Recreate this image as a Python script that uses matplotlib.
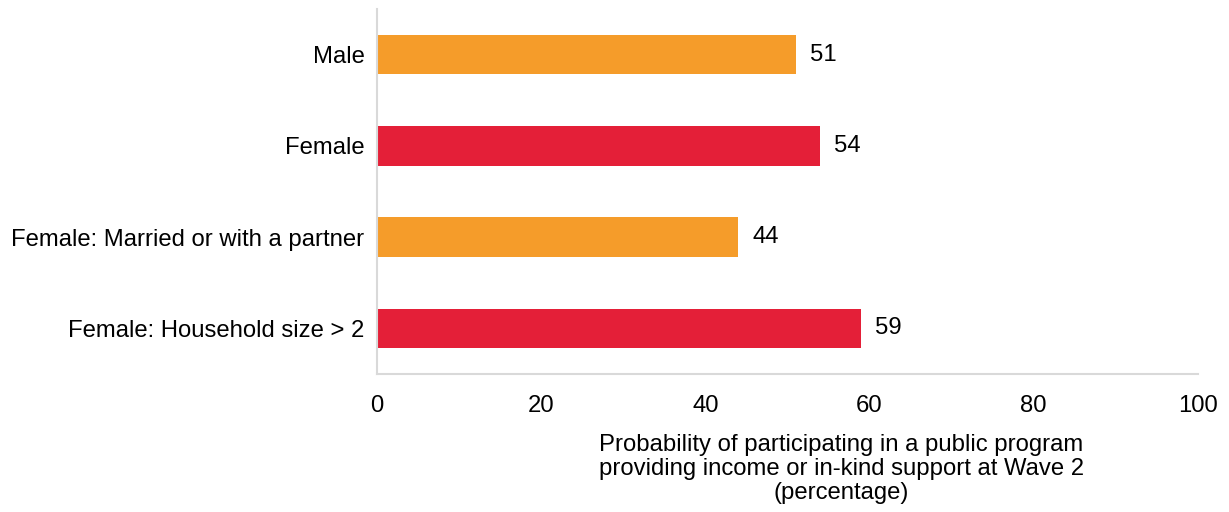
import matplotlib.pyplot as plt

plt.rcParams['font.family'] = ['Liberation Sans', 'DejaVu Sans']

groups = ["Male", "Female", "Female: Married or with a partner", "Female: Household size > 2"]
values = [51, 54, 44, 59]
colors = ["#F59C2A", "#E41F38", "#F59C2A", "#E41F38"]

fig = plt.figure(figsize=(12.29, 5.12), dpi=100)
ax = fig.add_axes([0.3067, 0.270, 0.668, 0.712])

fs = 17.2
ypos = list(range(len(groups)))
ax.barh(ypos, values, height=0.43, color=colors)
ax.set_yticks(ypos)
ax.set_yticklabels(groups, fontsize=fs)
ax.set_ylim(len(groups) - 0.5, -0.5)
ax.set_xlim(0, 100)
ax.set_xticks([0, 20, 40, 60, 80, 100])
ax.tick_params(axis='x', labelsize=fs, length=0, pad=15)
ax.tick_params(axis='y', length=0, pad=9)

for i, v in enumerate(values):
    ax.annotate(str(v), (v, i), xytext=(10, 0), textcoords='offset points',
                va='center', ha='left', fontsize=fs)

for side in ['top', 'right']:
    ax.spines[side].set_visible(False)
for side in ['left', 'bottom']:
    ax.spines[side].set_color('#D9D9D9')
    ax.spines[side].set_linewidth(1.5)

ax.set_xlabel("Probability of participating in a public program\n"
              "providing income or in-kind support at Wave 2\n(percentage)",
              fontsize=fs, linespacing=1.12)
ax.xaxis.set_label_coords(0.566, -0.165, transform=ax.transAxes)
ax.xaxis.label.set_va('top')

fig.savefig("out.png")
